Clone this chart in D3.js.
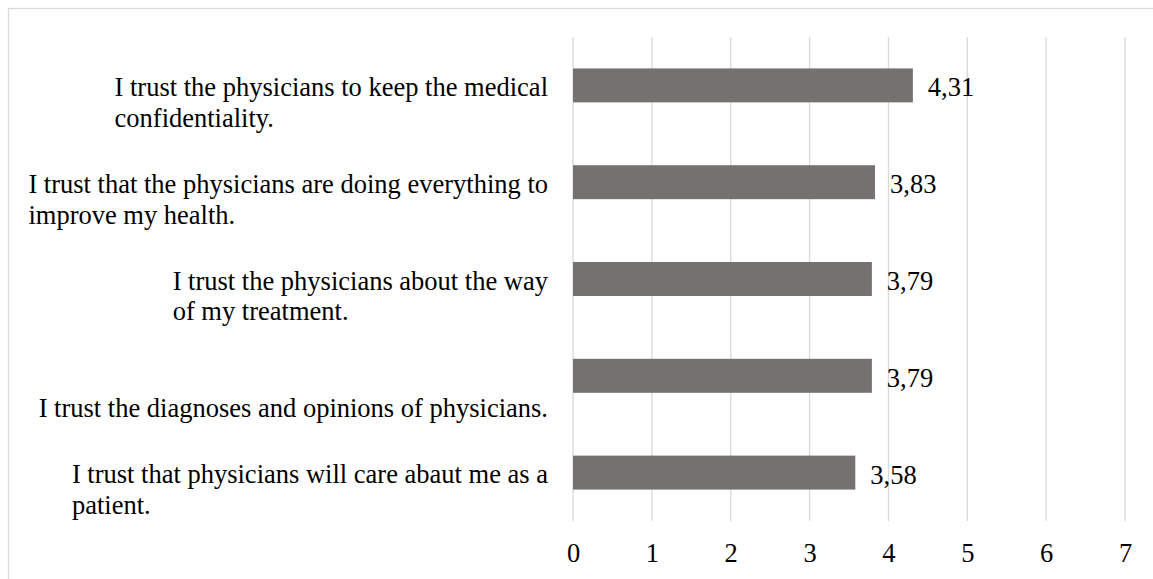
<!DOCTYPE html>
<html>
<head>
<meta charset="utf-8">
<script src="https://cdn.jsdelivr.net/npm/d3@7"></script>
<style>
  html, body { margin: 0; padding: 0; background: #ffffff; }
  svg { display: block; }
  text { font-family: "Liberation Serif", "Times New Roman", serif; fill: #000; }
</style>
</head>
<body>
<svg id="chart" width="1153" height="579"></svg>
<script>
// Statements, top to bottom; each entry holds the wrapped lines of the axis label
const categories = [
  ["I trust the physicians to keep the medical", "confidentiality."],
  ["I trust that the physicians are doing everything to", "improve my health."],
  ["I trust the physicians about the way", "of my treatment."],
  ["", "I trust the diagnoses and opinions of physicians."],
  ["I trust that physicians will care abaut me as a", "patient."]
];
// Mean trust score per statement
const values = [4.31, 3.83, 3.79, 3.79, 3.58];
// Value axis ticks
const tickValues = [0, 1, 2, 3, 4, 5, 6, 7];

const W = 1153, H = 579;
const plot = { left: 573, right: 1125, top: 37, bottom: 521 };
const fontSize = 26.5;
const lineStep = 30.7;
const barColor = "#767171";
const gridColor = "#d9d9d9";

const svg = d3.select("#chart");

// Outer chart frame (right and bottom edges fall outside the view)
svg.append("rect")
  .attr("x", 8.5).attr("y", 8.5)
  .attr("width", W).attr("height", H)
  .attr("fill", "#fff")
  .attr("stroke", gridColor)
  .attr("stroke-width", 1.3);

const x = d3.scaleLinear().domain([0, 7]).range([plot.left, plot.right]);
const y = d3.scaleBand()
  .domain(d3.range(categories.length))
  .range([plot.top, plot.bottom])
  .paddingInner(0.649)
  .paddingOuter(0.3245);

const locale = d3.formatLocale({ decimal: ",", thousands: ".", grouping: [3], currency: ["", ""] });
const fmt = locale.format(".2f");

// Vertical gridlines
svg.append("g")
  .selectAll("line")
  .data(tickValues)
  .join("line")
  .attr("x1", d => x(d)).attr("x2", d => x(d))
  .attr("y1", plot.top).attr("y2", plot.bottom)
  .attr("stroke", gridColor)
  .attr("stroke-width", 1.3);

// Bars
svg.append("g")
  .selectAll("rect")
  .data(values)
  .join("rect")
  .attr("x", x(0))
  .attr("y", (d, i) => y(i))
  .attr("width", d => x(d) - x(0))
  .attr("height", y.bandwidth())
  .attr("fill", barColor);

// Value labels
svg.append("g")
  .selectAll("text")
  .data(values)
  .join("text")
  .attr("x", d => x(d) + 15)
  .attr("y", (d, i) => y(i) + y.bandwidth() / 2 + 11)
  .attr("font-size", fontSize)
  .text(d => fmt(d));

// X axis tick labels
const xAxis = d3.axisBottom(x).tickValues(tickValues).tickSize(0).tickPadding(0).tickFormat(d3.format("d"));
const gx = svg.append("g")
  .attr("transform", `translate(0,${plot.bottom})`)
  .call(xAxis);
gx.select(".domain").remove();
gx.selectAll("text")
  .attr("font-family", "Liberation Serif, Times New Roman, serif")
  .attr("font-size", fontSize)
  .attr("fill", "#000")
  .attr("dy", null)
  .attr("y", 41);

// Category labels: lines left-aligned within a block whose right edge sits at labelRight
const labelRight = 548;
const labelGroups = svg.append("g")
  .selectAll("g")
  .data(categories)
  .join("g");

labelGroups.each(function(lines, i) {
  const g = d3.select(this);
  const base = y(i) + y.bandwidth() / 2 + 10.7;
  const texts = g.selectAll("text")
    .data(lines)
    .join("text")
    .attr("font-size", fontSize)
    .attr("y", (d, j) => base + j * lineStep)
    .text(d => d);
  let maxW = 0;
  texts.each(function() { maxW = Math.max(maxW, this.getComputedTextLength()); });
  texts.attr("x", labelRight - maxW);
});
</script>
</body>
</html>
